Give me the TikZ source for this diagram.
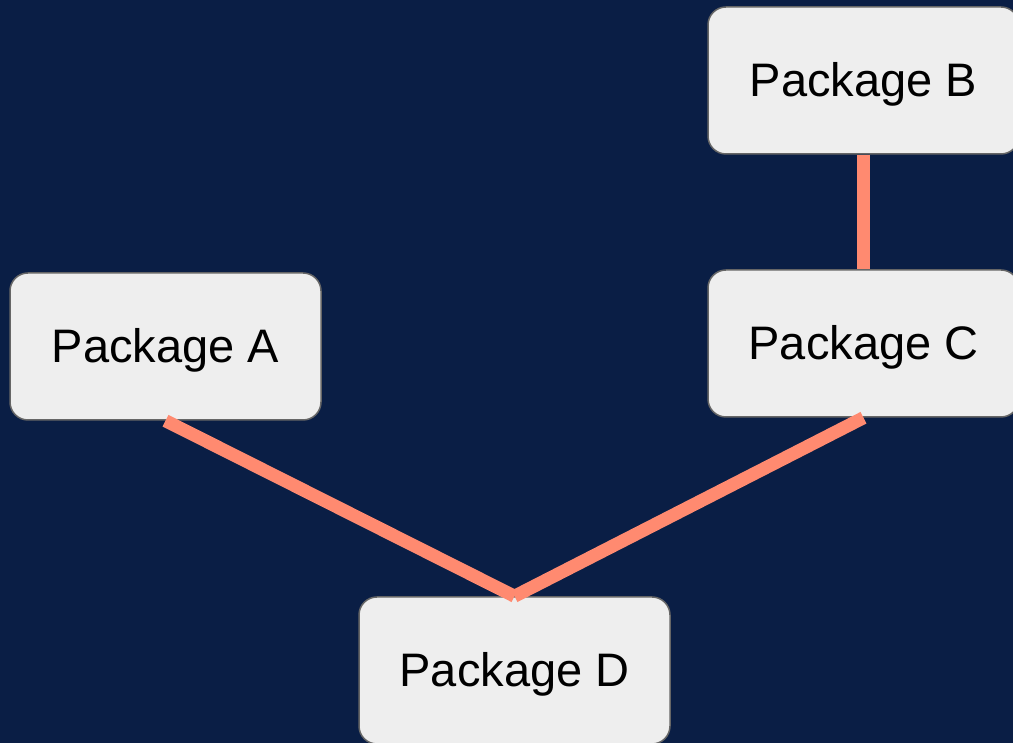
\documentclass[tikz,border=0pt]{standalone}
\usepackage{fontspec}
\setmainfont{Liberation Sans}
\definecolor{bg}{HTML}{0A1E45}
\definecolor{boxfill}{HTML}{EEEEEE}
\definecolor{boxborder}{HTML}{666666}
\definecolor{linkc}{HTML}{FF8A70}
\begin{document}
\begin{tikzpicture}[x=1pt,y=1pt,
  box/.style={draw=boxborder, line width=1.5pt, fill=boxfill, rounded corners=18pt,
    minimum width=311pt, minimum height=147pt, inner sep=0pt,
    text height=33pt, text depth=0pt, font=\fontsize{47}{52}\selectfont},
  link/.style={draw=linkc, line width=13pt}]
\fill[bg] (0,0) rectangle (1013,743);
\useasboundingbox (0,0) rectangle (1013,743);
\node[box] (A) at (165.5,396.5) {Package A};
\node[box] (B) at (863.5,662.5) {Package B};
\node[box] (C) at (863.5,399.5) {Package C};
\node[box] (D) at (514.5,72.5) {Package D};
\draw[link] (A.south) -- (D.north);
\draw[link] (C.south) -- (D.north);
\draw[link] (B.south) -- (C.north);
\end{tikzpicture}
\end{document}
